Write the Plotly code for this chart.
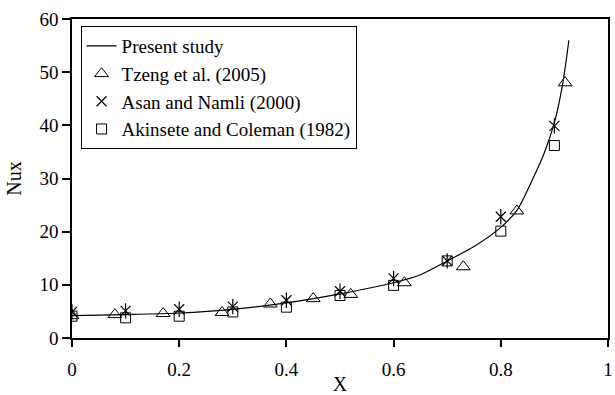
import plotly.graph_objects as go

# Present study curve
present_x = [0.0, 0.1, 0.2, 0.3, 0.4, 0.5, 0.6, 0.65, 0.7, 0.75, 0.8, 0.83, 0.86, 0.88, 0.9, 0.915, 0.927]
present_y = [4.2, 4.4, 4.7, 5.4, 6.6, 8.3, 10.4, 11.9, 14.5, 17.2, 20.8, 24.0, 30.0, 34.5, 40.5, 47.5, 56.0]

# Tzeng et al. (2005)
tzeng_x = [0.0, 0.08, 0.17, 0.28, 0.37, 0.45, 0.52, 0.62, 0.73, 0.83, 0.92]
tzeng_y = [4.2, 4.4, 4.6, 4.8, 6.4, 7.4, 8.2, 10.4, 13.4, 23.9, 48.0]

# Asan and Namli (2000)
asan_x = [0.0, 0.1, 0.2, 0.3, 0.4, 0.5, 0.6, 0.7, 0.8, 0.9]
asan_y = [4.9, 5.1, 5.4, 5.9, 7.1, 8.8, 11.2, 14.5, 22.8, 39.9]

# Akinsete and Coleman (1982)
akin_x = [0.0, 0.1, 0.2, 0.3, 0.4, 0.5, 0.6, 0.7, 0.8, 0.9]
akin_y = [4.1, 3.8, 4.1, 4.9, 5.8, 8.0, 9.9, 14.5, 20.1, 36.2]

x_ticks = [0, 0.2, 0.4, 0.6, 0.8, 1]
x_tick_labels = ["0", "0.2", "0.4", "0.6", "0.8", "1"]
y_ticks = [0, 10, 20, 30, 40, 50, 60]

FONT = "Times New Roman, Liberation Serif, serif"

fig = go.Figure()
fig.add_trace(go.Scatter(x=present_x, y=present_y, mode="lines", name="Present study",
                         line=dict(color="black", width=1.2, shape="spline", smoothing=0.8)))
fig.add_trace(go.Scatter(x=tzeng_x, y=tzeng_y, mode="markers", name="Tzeng et al. (2005)",
                         marker=dict(symbol="triangle-up-open", size=12, color="black",
                                     line=dict(width=1, color="black"))))
fig.add_trace(go.Scatter(x=asan_x, y=asan_y, mode="markers", name="Asan and Namli (2000)",
                         marker=dict(symbol="x-thin-open", size=10, color="black",
                                     line=dict(width=1.2, color="black"))))
fig.add_trace(go.Scatter(x=asan_x, y=asan_y, mode="markers", showlegend=False, hoverinfo="skip",
                         marker=dict(symbol="line-ns-open", size=11, color="black",
                                     line=dict(width=1.2, color="black"))))
fig.add_trace(go.Scatter(x=akin_x, y=akin_y, mode="markers", name="Akinsete and Coleman (1982)",
                         marker=dict(symbol="square-open", size=10, color="black",
                                     line=dict(width=1, color="black"))))

fig.update_layout(
    width=615, height=395,
    margin=dict(l=72, r=7, t=19, b=57),
    paper_bgcolor="white", plot_bgcolor="white",
    font=dict(family=FONT, size=19, color="black"),
    showlegend=True,
    legend=dict(x=0.016, y=0.978, xanchor="left", yanchor="top",
                bordercolor="black", borderwidth=1, bgcolor="white",
                font=dict(family=FONT, size=19, color="black"),
                tracegroupgap=0, itemwidth=30),
    xaxis=dict(range=[0, 1], tickvals=x_ticks, ticktext=x_tick_labels,
               showgrid=False, zeroline=False, showline=True, linecolor="black",
               linewidth=1.5, mirror=True, ticks="outside", ticklen=7, tickwidth=1.5,
               tickcolor="black", tickfont=dict(family=FONT, size=19),
               ticklabelstandoff=6, automargin=False, ticklabeloverflow="allow",
               title=dict(text="X", standoff=0, font=dict(family=FONT, size=20))),
    yaxis=dict(range=[0, 60], tickvals=y_ticks,
               showgrid=False, zeroline=False, showline=True, linecolor="black",
               linewidth=1.5, mirror=True, ticks="outside", ticklen=8, tickwidth=1.5,
               tickcolor="black", tickfont=dict(family=FONT, size=19), automargin=False,
               ticklabeloverflow="allow",
               title=dict(text="Nux", standoff=12, font=dict(family=FONT, size=20))),
)

fig.write_html("out.html")
